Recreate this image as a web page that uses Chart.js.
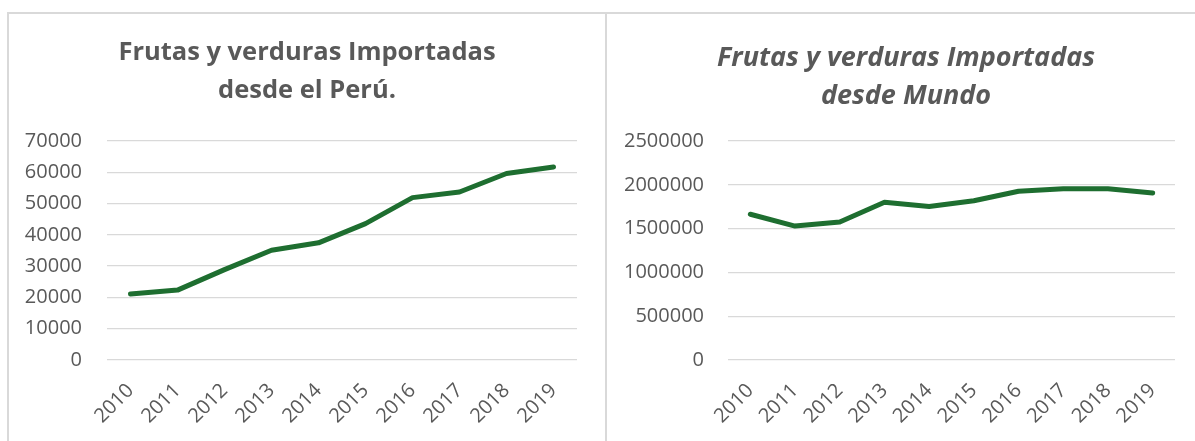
<!DOCTYPE html>
<html>
<head>
<meta charset="utf-8">
<script src="https://cdn.jsdelivr.net/npm/chart.js"></script>
<style>
  html, body { margin: 0; padding: 0; background: #fff; overflow: hidden; width: 1195px; height: 441px; }
  .box { position: absolute; top: 12px; height: 500px; border: 2px solid #d9d9d9; background: #fff; }
  #boxPeru { left: 7px; width: 596px; }
  #boxMundo { left: 605px; width: 600px; }
  canvas { position: absolute; top: 0; left: 0; }
</style>
</head>
<body>
<div class="box" id="boxPeru"><canvas id="peruChart" width="596" height="427"></canvas></div>
<div class="box" id="boxMundo"><canvas id="mundoChart" width="598" height="427"></canvas></div>

<script>
  // Years on the x axis
  const years = ['2010', '2011', '2012', '2013', '2014', '2015', '2016', '2017', '2018', '2019'];

  // Imports from Peru
  const peruValues = [21060, 22340, 28900, 35100, 37450, 43600, 51900, 53700, 59600, 61700];

  // Imports from the world
  const mundoValues = [1664000, 1529000, 1575000, 1800000, 1753000, 1818000, 1927000, 1954000, 1954000, 1907000];

  const peruTitle = ['Frutas y verduras Importadas', 'desde el Perú.'];
  const mundoTitle = ['Frutas y verduras Importadas', 'desde Mundo'];

  const textColor = '#595959';
  const lineColor = '#1e6e30';
  const gridColor = '#d9d9d9';

  // Excel centres the title on the whole chart box, not on the plot
  const centerTitle = {
    id: 'centerTitle',
    afterLayout(chart) {
      chart.titleBlock.left = 0;
      chart.titleBlock.right = chart.width;
    }
  };

  function makeChart(id, title, values, yMax, yStep, yWidth, tickPad, italic, padRight, titleTop, titleSize) {
    const ctx = document.getElementById(id).getContext('2d');
    return new Chart(ctx, {
      type: 'line',
      data: {
        labels: years,
        datasets: [{
          data: values,
          borderColor: lineColor,
          borderWidth: 5,
          borderCapStyle: 'round',
          borderJoinStyle: 'round',
          pointRadius: 0,
          tension: 0
        }]
      },
      plugins: [centerTitle],
      options: {
        responsive: false,
        animation: false,
        layout: { padding: { left: 0, right: padRight, top: 0, bottom: 0 } },
        plugins: {
          legend: { display: false },
          tooltip: { enabled: false },
          title: {
            display: true,
            text: title,
            color: textColor,
            font: { family: 'Open Sans', size: titleSize, weight: 'bold', style: italic ? 'italic' : 'normal', lineHeight: '38px' },
            padding: { top: titleTop, bottom: 51 - titleTop }
          }
        },
        scales: {
          x: {
            offset: true,
            grid: { display: false },
            border: { display: false },
            ticks: {
              color: textColor,
              font: { family: 'Open Sans', size: 20 },
              maxRotation: 45,
              minRotation: 45,
              padding: 11
            },
            afterFit: s => { s.height = 81; }
          },
          y: {
            min: 0,
            max: yMax,
            grid: { color: gridColor, lineWidth: 1.3, drawTicks: false },
            border: { display: false },
            ticks: {
              stepSize: yStep,
              color: textColor,
              font: { family: 'Open Sans', size: 20 },
              padding: tickPad,
              callback: v => String(v)
            },
            afterFit: s => { s.width = yWidth; }
          }
        }
      }
    });
  }

  makeChart('peruChart', peruTitle, peruValues, 70000, 10000, 98, 25, false, 28, 20, 25.5);
  makeChart('mundoChart', mundoTitle, mundoValues, 2500000, 500000, 121, 24, true, 30, 25, 27);
</script>
</body>
</html>
